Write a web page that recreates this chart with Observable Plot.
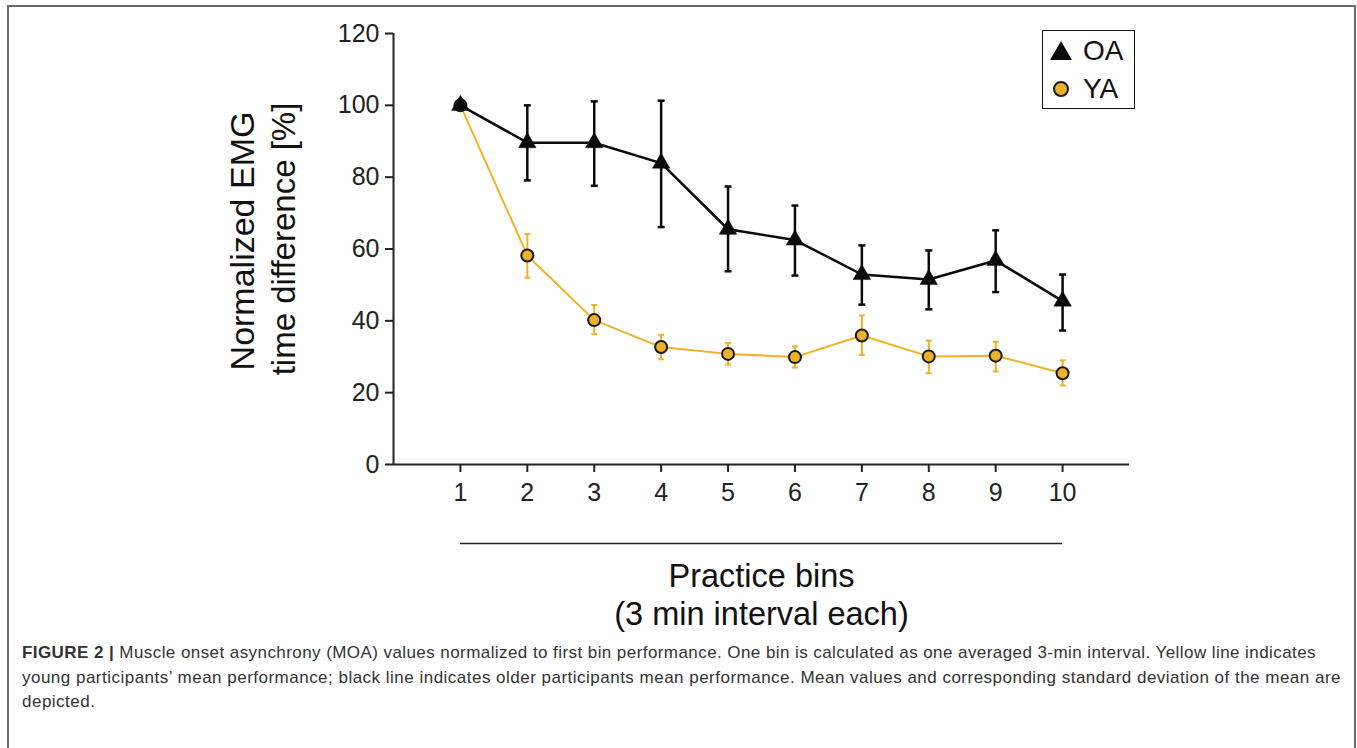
<!DOCTYPE html>
<html>
<head>
<meta charset="utf-8">
<script src="https://cdn.jsdelivr.net/npm/d3@7"></script>
<script src="https://cdn.jsdelivr.net/npm/@observablehq/plot@0.6"></script>
<style>
html,body{margin:0;padding:0;background:#fff;}
body{width:1357px;height:748px;position:relative;overflow:hidden;font-family:"Liberation Sans",Arial,Helvetica,sans-serif;}
#frame{position:absolute;left:7px;top:5px;height:800px;border:2px solid #6a6a6a;box-sizing:border-box;width:1349px;}
#chart{position:absolute;left:0;top:0;}
#legend{position:absolute;left:1042px;top:30px;width:93px;height:79px;border:1.6px solid #111;box-sizing:border-box;background:#fff;}
.lg{position:absolute;left:0;height:30px;display:flex;align-items:center;}
.lg span{font-size:28px;color:#111;margin-left:10px;line-height:30px;}
#caption{position:absolute;left:22px;top:641px;font-size:17px;line-height:24.5px;color:#333;white-space:nowrap;}
#caption div{display:block;}
#caption span{display:inline-block;}
</style>
</head>
<body>
<div id="frame"></div>
<div id="chart"></div>
<div id="legend"></div>
<div id="caption"></div>
<script>
// ---- data ----
const bins = [1, 2, 3, 4, 5, 6, 7, 8, 9, 10];
const yTicks = [0, 20, 40, 60, 80, 100, 120];
const groups = ["OA", "YA"];

const oaMean = [100, 89.6, 89.6, 83.9, 65.5, 62.5, 52.9, 51.5, 56.8, 45.5];
const oaLow  = [100, 79.1, 77.6, 66.1, 53.8, 52.6, 44.5, 43.2, 48.0, 37.3];
const oaHigh = [100, 100.0, 101.1, 101.3, 77.4, 72.1, 61.0, 59.6, 65.2, 52.9];

const yaMean = [100, 58.2, 40.2, 32.7, 30.8, 29.9, 35.9, 30.1, 30.3, 25.4];
const yaLow  = [100, 52.0, 36.3, 29.3, 27.8, 27.0, 30.5, 25.4, 25.9, 22.0];
const yaHigh = [100, 64.2, 44.4, 36.1, 33.8, 32.9, 41.5, 34.5, 34.2, 29.0];

const captionLines = [
  ["FIGURE 2 |", " Muscle onset asynchrony (MOA) values normalized to first bin performance. One bin is calculated as one averaged 3-min interval. Yellow line indicates"],
  ["", "young participants\u2019 mean performance; black line indicates older participants mean performance. Mean values and corresponding standard deviation of the mean are"],
  ["", "depicted."]
];
const captionWidths = [1294, 1319, null];

// ---- build tables ----
const oa = bins.map((b, i) => ({bin: b, mean: oaMean[i], low: oaLow[i], high: oaHigh[i]}));
const ya = bins.map((b, i) => ({bin: b, mean: yaMean[i], low: yaLow[i], high: yaHigh[i]}));
const oaErr = oa.filter(d => d.high > d.low);
const yaErr = ya.filter(d => d.high > d.low);

const YEL = "#f2b124";
const YELFILL = "#ebb12b";
const BLK = "#0a0a0a";
const AX = "#222";

const capSymbol = {
  draw(context, size) {
    const r = Math.sqrt(size / Math.PI);
    context.moveTo(-r, 0);
    context.lineTo(r, 0);
  }
};

const xMid = (bins[0] + bins[bins.length - 1]) / 2;

const chart = Plot.plot({
  width: 1357,
  height: 650,
  marginLeft: 393,
  marginRight: 228,
  marginTop: 33,
  marginBottom: 186,
  style: {fontFamily: '"Liberation Sans", Arial, Helvetica, sans-serif', background: "transparent", color: AX},
  x: {domain: [0, 11]},
  y: {domain: [0, 120]},
  marks: [
    Plot.axisX({ticks: bins, tickFormat: d => String(d), tickSize: 8, tickPadding: 11, fontSize: 25, label: null, strokeWidth: 2}),
    Plot.axisY({ticks: yTicks, tickSize: 8, tickPadding: 6, fontSize: 25, label: null, strokeWidth: 2}),
    Plot.ruleY([0], {stroke: AX, strokeWidth: 2}),
    Plot.ruleX([0], {stroke: AX, strokeWidth: 2}),
    // bracket line under the x axis spanning first to last bin
    Plot.ruleY([0], {x1: bins[0], x2: bins[bins.length - 1], dy: 79, stroke: "#222", strokeWidth: 1.5}),
    // x-axis title
    Plot.text(["Practice bins"], {text: d => d, x: xMid, frameAnchor: "bottom", lineAnchor: "bottom", dy: 122, fontSize: 32.5, fill: "#111"}),
    Plot.text(["(3 min interval each)"], {text: d => d, x: xMid, frameAnchor: "bottom", lineAnchor: "bottom", dy: 160, fontSize: 32.5, fill: "#111"}),
    // y-axis title
    Plot.text(["Normalized EMG"], {text: d => d, frameAnchor: "left", textAnchor: "middle", rotate: -90, dx: -150, dy: -8, fontSize: 34, fill: "#111"}),
    Plot.text(["time difference [%]"], {text: d => d, frameAnchor: "left", textAnchor: "middle", rotate: -90, dx: -109, dy: -10, fontSize: 33, fill: "#111"}),
    // YA
    Plot.line(ya, {x: "bin", y: "mean", stroke: YEL, strokeWidth: 2}),
    Plot.ruleX(yaErr, {x: "bin", y1: "low", y2: "high", stroke: YEL, strokeWidth: 2}),
    Plot.dot(yaErr, {x: "bin", y: "low", symbol: capSymbol, r: 3, stroke: YEL, fill: "none", strokeWidth: 2}),
    Plot.dot(yaErr, {x: "bin", y: "high", symbol: capSymbol, r: 3, stroke: YEL, fill: "none", strokeWidth: 2}),
    Plot.dot(ya, {x: "bin", y: "mean", r: 6, fill: YELFILL, stroke: "#1a1a1a", strokeWidth: 2}),
    // OA
    Plot.line(oa, {x: "bin", y: "mean", stroke: BLK, strokeWidth: 2.5}),
    Plot.ruleX(oaErr, {x: "bin", y1: "low", y2: "high", stroke: BLK, strokeWidth: 2.5}),
    Plot.dot(oaErr, {x: "bin", y: "low", symbol: capSymbol, r: 3.5, stroke: BLK, fill: "none", strokeWidth: 2.5}),
    Plot.dot(oaErr, {x: "bin", y: "high", symbol: capSymbol, r: 3.5, stroke: BLK, fill: "none", strokeWidth: 2.5}),
    Plot.dot(oa, {x: "bin", y: "mean", symbol: "triangle", r: 6.5, fill: BLK, stroke: BLK, strokeWidth: 0.5})
  ]
});
document.getElementById("chart").appendChild(chart);

// ---- legend ----
const legend = document.getElementById("legend");
const legendSym = {
  OA: '<svg width="24" height="24" viewBox="-12 -12 24 24"><path d="M0,-10L11,9L-11,9Z" fill="#0a0a0a"/></svg>',
  YA: '<svg width="24" height="24" viewBox="-12 -12 24 24"><circle r="7" fill="' + YELFILL + '" stroke="#1a1a1a" stroke-width="2"/></svg>'
};
groups.forEach((g, i) => {
  const row = document.createElement("div");
  row.className = "lg";
  row.style.top = (i === 0 ? 5 : 43) + "px";
  row.style.left = "6px";
  row.innerHTML = legendSym[g] + "<span>" + g + "</span>";
  legend.appendChild(row);
});

// ---- caption ----
const cap = document.getElementById("caption");
let lastSpacing = 0;
captionLines.forEach(([bold, rest], i) => {
  const div = document.createElement("div");
  const span = document.createElement("span");
  if (bold) {
    const b = document.createElement("b");
    b.textContent = bold;
    span.appendChild(b);
  }
  span.appendChild(document.createTextNode(rest));
  div.appendChild(span);
  cap.appendChild(div);
  const target = captionWidths[i];
  const chars = (bold + rest).length;
  if (target) {
    const w = span.getBoundingClientRect().width;
    lastSpacing = (target - w) / chars;
  }
  span.style.letterSpacing = lastSpacing + "px";
});
</script>
</body>
</html>
